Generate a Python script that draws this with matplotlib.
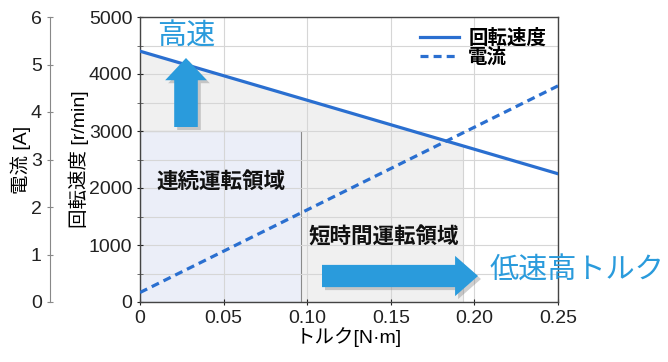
import matplotlib
matplotlib.use("Agg")
import matplotlib.pyplot as plt
import numpy as np

plt.rcParams['font.family'] = ['Liberation Sans', 'Noto Sans CJK JP', 'DejaVu Sans']

# ---- data ----
torque = [0.0, 0.25]
speed = [4400, 2250]          # r/min
current = [0.2, 4.55]         # A
cont_torque_max = 0.096
cont_speed_max = 3000
short_torque_max = 0.193

x_ticks = [0, 0.05, 0.10, 0.15, 0.20, 0.25]
x_labels = ['0', '0.05', '0.10', '0.15', '0.20', '0.25']
speed_ticks = [0, 1000, 2000, 3000, 4000, 5000]
current_ticks = [0, 1, 2, 3, 4, 5, 6]

BLUE = '#2a6fd0'
ARROW = '#2a9bdc'
W, H = 668, 362

fig = plt.figure(figsize=(W / 100, H / 100), dpi=100)
ax = fig.add_axes([140 / W, 1 - 302 / H, 418 / W, 285 / H])

ax.set_xlim(0, 0.25)
ax.set_ylim(0, 5000)

# short-time region (under the speed line)
xs = np.linspace(0, short_torque_max, 50)
ys = np.interp(xs, torque, speed)
ax.fill_between(xs, 0, ys, color='#f0f0f0', zorder=0.2, lw=0)
ax.plot([short_torque_max, short_torque_max], [0, np.interp(short_torque_max, torque, speed)],
        color='#d4d4d4', lw=0.8, zorder=0.3)
# continuous region
ax.add_patch(plt.Rectangle((0, 0), cont_torque_max, cont_speed_max, facecolor='#ebeef8',
                           edgecolor='#8a8a8a', lw=0.8, zorder=0.3))

ax.set_axisbelow(True)
ax.grid(True, color='#d6d6d6', lw=0.8)
ax.set_xticks(x_ticks)
ax.set_xticklabels(x_labels)
ax.set_yticks(speed_ticks)
ax.set_yticks(np.arange(0, 5001, 500), minor=True)
ax.yaxis.grid(True, which='minor', color='#d6d6d6', lw=0.8)
ax.tick_params(axis='both', labelsize=14, colors='#222222', direction='inout', length=4)
ax.tick_params(axis='y', which='minor', direction='inout', length=4, color='#555555')
for s in ax.spines.values():
    s.set_color('#444444')
    s.set_linewidth(1.0)

ln1, = ax.plot(torque, speed, color=BLUE, lw=2.3, zorder=3, label='回転速度')

ax.set_xlabel('トルク[N·m]', fontsize=14, labelpad=0)
ax.set_ylabel('回転速度 [r/min]', fontsize=14, labelpad=0)

# current axis on the far left
ax2 = ax.twinx()
ax2.set_ylim(0, 6)
ax2.spines['left'].set_position(('axes', -0.215))
ax2.spines['left'].set_visible(True)
ax2.spines['left'].set_color('#888888')
for k in ('right', 'top', 'bottom'):
    ax2.spines[k].set_visible(False)
ax2.yaxis.set_ticks_position('left')
ax2.yaxis.set_label_position('left')
ax2.set_yticks(current_ticks)
ax2.tick_params(axis='y', labelsize=14, colors='#222222', direction='inout', length=5)
ax2.tick_params(axis='y', color='#888888')
ax2.set_ylabel('電流 [A]', fontsize=14, labelpad=0)

ln2, = ax2.plot(torque, current, color=BLUE, lw=2.3, dashes=(2.5, 1.6), zorder=3, label='電流')

leg = ax.legend([ln1, ln2], ['回転速度', '電流'], loc='upper right', frameon=False,
                prop={'size': 14, 'weight': 'bold'}, handlelength=2.0, handletextpad=0.5,
                labelspacing=0.0, borderaxespad=0.2, bbox_to_anchor=(1.0, 1.0))
leg.set_zorder(10)

# texts
def fp(x, y):
    return (x, H - y)

fig.text(157 / W, 1 - 37 / H, '高速', fontsize=21, color=ARROW, va='center', ha='left')
fig.text(221 / W, 1 - 182 / H, '連続運転領域', fontsize=15.5, fontweight='bold',
         color='#111111', va='center', ha='center')
fig.text(384 / W, 1 - 238 / H, '短時間運転領域', fontsize=15.5, fontweight='bold',
         color='#111111', va='center', ha='center')
fig.text(490 / W, 1 - 271 / H, '低速高トルク', fontsize=21, color=ARROW, va='center', ha='left')

# arrows
def arrow(p0, p1, tw, hw, hl):
    st = f'simple,tail_width={tw},head_width={hw},head_length={hl}'
    sh = (3, -3)
    ax.annotate('', xy=(p1[0] + sh[0], p1[1] + sh[1]), xytext=(p0[0] + sh[0], p0[1] + sh[1]),
                xycoords='figure pixels', textcoords='figure pixels',
                arrowprops=dict(arrowstyle=st, color='#777777', alpha=0.35, lw=0,
                                shrinkA=0, shrinkB=0, mutation_scale=1), zorder=4)
    ax.annotate('', xy=p1, xytext=p0, xycoords='figure pixels', textcoords='figure pixels',
                arrowprops=dict(arrowstyle=st, color=ARROW, lw=0, shrinkA=0, shrinkB=0,
                                mutation_scale=1), zorder=5)

arrow(fp(186, 127), fp(186, 58), 17, 30, 16)
arrow(fp(322, 276), fp(478, 276), 16, 29, 16.5)

fig.savefig('out.png', dpi=100)
